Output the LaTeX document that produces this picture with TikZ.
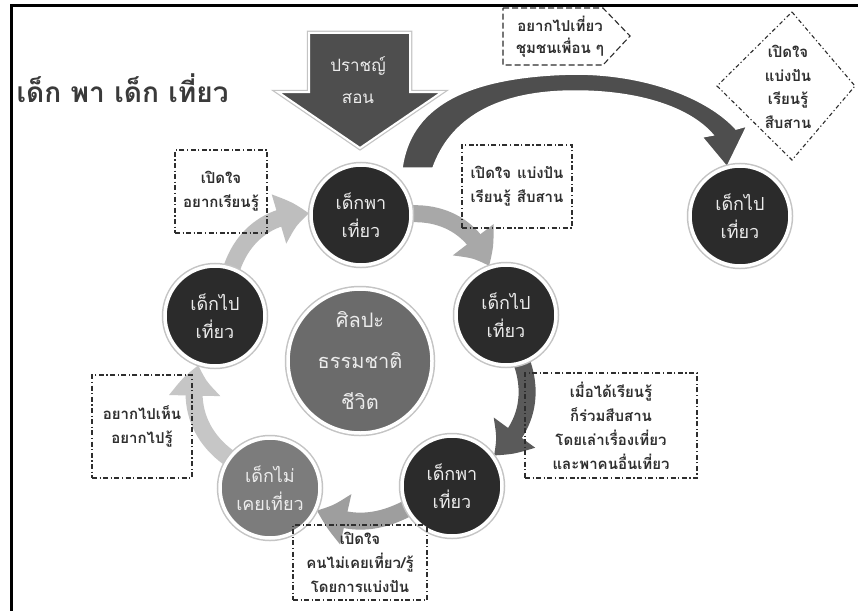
\documentclass[tikz,border=0pt]{standalone}
\usepackage{fontspec}
\setmainfont[Script=Thai]{Loma}
\usetikzlibrary{arrows.meta,bending,shadows}
\pgfdeclarelayer{back}
\pgfsetlayers{back,main}
\definecolor{ink}{HTML}{2B2B2B}
\definecolor{stone}{HTML}{6B6B6B}
\definecolor{ash}{HTML}{7C7C7C}
\definecolor{slate}{HTML}{4E4E4E}
\definecolor{pen}{HTML}{2E2E2E}
\definecolor{paper}{HTML}{ECECEC}
\definecolor{headline}{HTML}{3A3A3A}
\definecolor{halo}{HTML}{C4C4C4}
\definecolor{arrA}{HTML}{A8A8A8}
\definecolor{arrB}{HTML}{5A5A5A}
\definecolor{arrC}{HTML}{9E9E9E}
\definecolor{arrD}{HTML}{C6C6C6}
\definecolor{arrE}{HTML}{BEBEBE}

\begin{document}
\begin{tikzpicture}[x=1pt,y=-1pt,
  stage/.style={circle, minimum size=100pt, inner sep=0pt, fill=ink, draw=white,
    line width=3.5pt, text=paper, align=center, font=\fontsize{18}{28}\selectfont,
    preaction={draw=halo, line width=6.5pt}},
  note/.style={draw=pen, line width=1.1pt, dash pattern=on 5pt off 2.5pt on 1.2pt off 2.5pt,
    inner sep=0pt, align=center, text=pen, font=\fontsize{15}{24}\selectfont\bfseries},
  tag/.style={text=pen, align=center, font=\fontsize{15}{22}\selectfont\bfseries},
  loop/.style={line width=17pt, -{Triangle[width=48pt,length=32pt,bend]}},
]
\begin{pgfonlayer}{back}
  \fill[white] (0,0) rectangle (858,610);
\end{pgfonlayer}
\useasboundingbox (0,0) rectangle (858,610);

% frame
\draw[line width=3pt] (11,612) -- (11,6) -- (860,6);

% title
\node[anchor=west, font=\fontsize{28}{32}\selectfont\bfseries, text=headline] (title) at (13,88) {เด็ก พา เด็ก เที่ยว};

% cycle stations
\node[stage] (lead) at (361,215) {เด็กพา\\เที่ยว};
\node[stage] (goR) at (506,315) {เด็กไป\\เที่ยว};
\node[stage] (leadB) at (452,486) {เด็กพา\\เที่ยว};
\node[stage, fill=ash] (never) at (270,488) {เด็กไม่\\เคยเที่ยว};
\node[stage] (goL) at (215,316) {เด็กไป\\เที่ยว};
\node[stage, fill=stone, minimum size=144pt, font=\fontsize{20}{41}\selectfont] (core) at (360,361) {ศิลปะ\\ธรรมชาติ\\ชีวิต};
\node[stage] (away) at (740,216) {เด็กไป\\เที่ยว};

% notes
\node[note, minimum width=92pt, minimum height=83pt] (n1) at (221,191.5) {เปิดใจ\\อยากเรียนรู้};
\node[note, minimum width=110pt, minimum height=83pt] (n2) at (517,186.5) {เปิดใจ\hspace{6pt}แบ่งปัน\\เรียนรู้\hspace{6pt}สืบสาน};
\node[note, minimum width=172pt, minimum height=105pt] (n3) at (611,425.5) {เมื่อได้เรียนรู้\\ก็ร่วมสืบสาน\\โดยเล่าเรื่องเที่ยว\\และพาคนอื่นเที่ยว};
\node[note, minimum width=100pt, minimum height=103pt] (n4) at (142,426.5) {อยากไปเห็น\\อยากไปรู้};
\node[note, minimum width=134pt, minimum height=75pt] (n5) at (360,562.5) {เปิดใจ\\คนไม่เคยเที่ยว/รู้\\โดยการแบ่งปัน};

% pentagon tag
\draw[pen, line width=1.1pt, dash pattern=on 6pt off 3pt] (503,8) -- (603,8) -- (630,36) -- (603,65) -- (503,65) -- cycle;
\node[tag] (n6) at (560,37) {อยากไปเที่ยว\\ชุมชนเพื่อน ๆ};

% diamond tag
\draw[pen, line width=1.1pt, dash pattern=on 4pt off 2.5pt on 1.2pt off 2.5pt] (792,12) -- (855,86) -- (792,160) -- (717,86) -- cycle;
\node[tag, font=\fontsize{15}{23.5}\selectfont\bfseries] (n7) at (788,87) {เปิดใจ\\แบ่งปัน\\เรียนรู้\\สืบสาน};

\begin{pgfonlayer}{back}
  % ring of arrows
  \draw[loop, color=arrA] (lead) to[bend left=36] (goR);
  \draw[loop, color=arrB] (goR) to[bend left=36] (leadB);
  \draw[loop, color=arrC] (leadB) to[bend left=26] (never);
  \draw[loop, color=arrD] (never) to[bend left=36] (goL);
  \draw[loop, color=arrE] (goL) to[bend left=36] (lead);
  % sweeping arrow towards the far station
  \coordinate (sweepA) at (402,168);
  \coordinate (sweepB) at (433,168);
  \coordinate (tipAway) at (727,167);
  \path[fill=slate, draw=white, line width=1.5pt]
    (sweepA) .. controls (410,110) and (460,76) .. (575,74)
    .. controls (650,74) and (710,100) .. (736,129)
    -- (747,126) -- (tipAway) -- (702,137) -- (713,135)
    .. controls (690,108) and (640,91) .. (575,91)
    .. controls (495,91) and (450,120) .. (sweepB) -- cycle;
\end{pgfonlayer}

% big downward arrow
\path[fill=slate, draw=white, line width=2pt, preaction={draw=halo, line width=4.5pt}]
  (309,33) -- (410,33) -- (410,92) -- (442,92) -- (360,148) -- (278,92) -- (309,92) -- cycle;
\node[font=\fontsize{17}{32}\selectfont, text=paper, align=center] (sage) at (358,80) {ปราชญ์\\สอน};
\end{tikzpicture}
\end{document}
